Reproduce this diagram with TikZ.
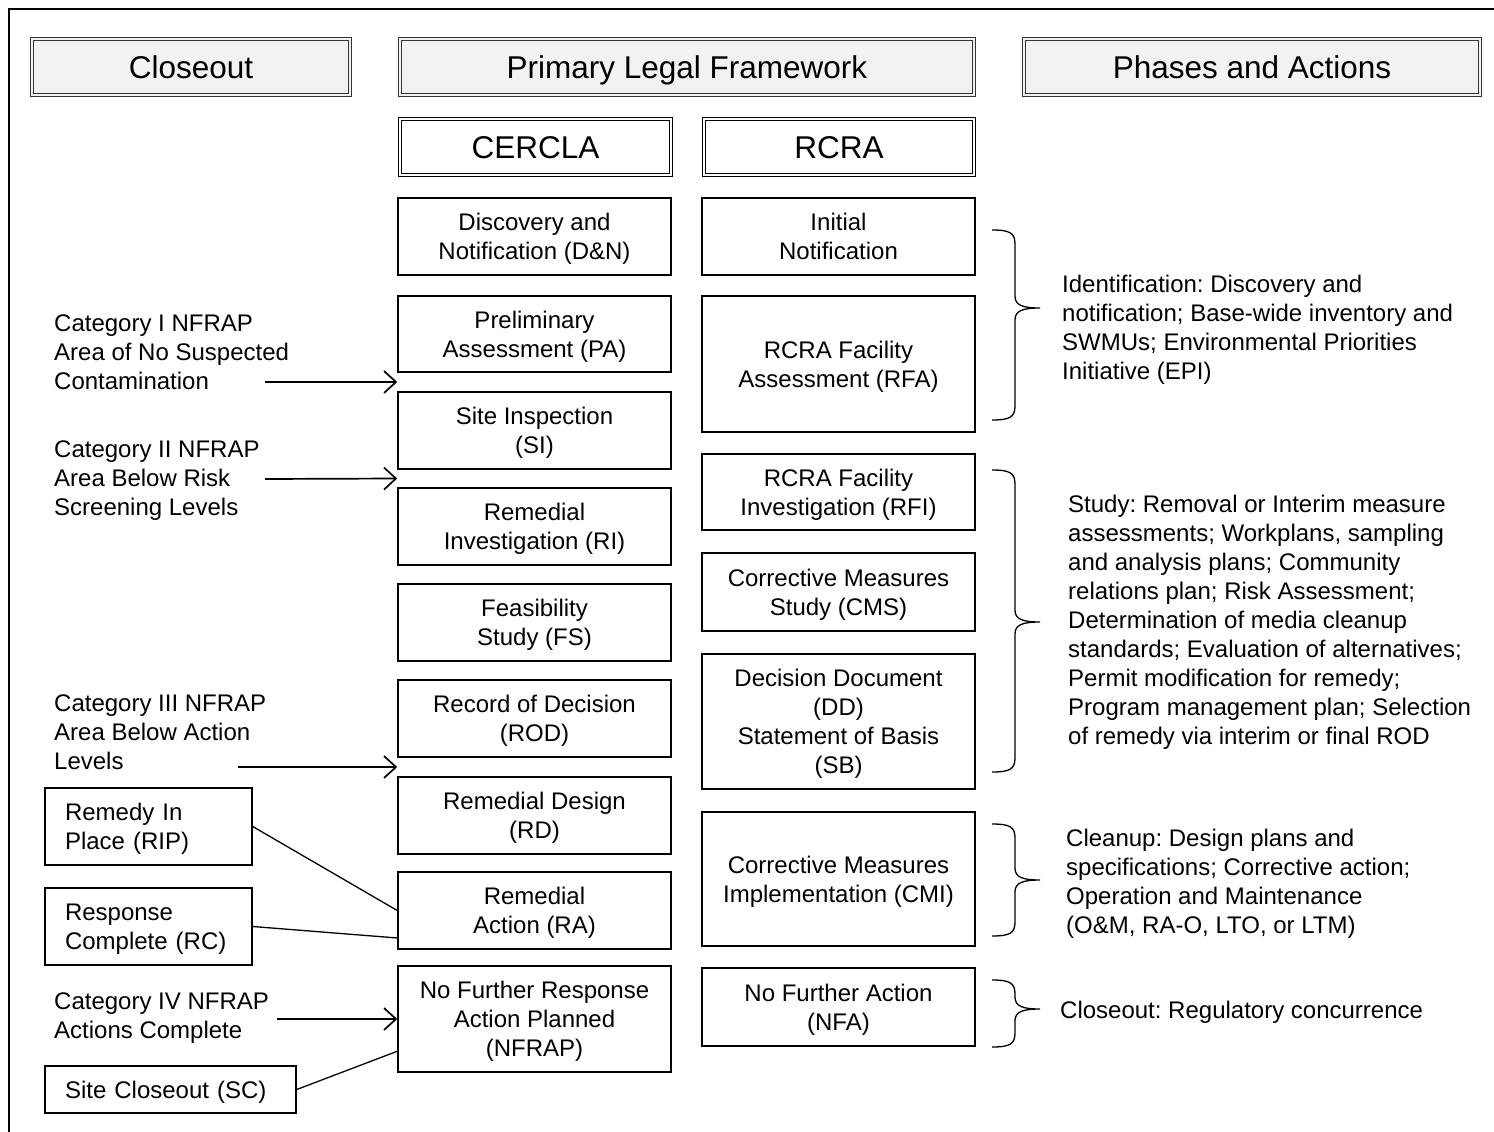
\documentclass[tikz,border=0pt]{standalone}
\usepackage{fontspec}
\setmainfont{Liberation Sans}
\usetikzlibrary{arrows.meta,calc}
\definecolor{hdrgray}{HTML}{F2F2F2}
\frenchspacing
\newcommand\bodyfont{\fontsize{24}{29}\selectfont}
\newcommand\hdrfont{\fontsize{31.5}{36}\selectfont}
\newcommand\stA{\rule{0pt}{22pt}}
\newcommand\stB{\rule[-5pt]{0pt}{5pt}}
\newcommand\drawbrace[3]{%
  \draw[brc] (992,#1) .. controls (1010,#1) and (1015,#1+3) .. (1015,#1+14)
    -- (1015,#2-12) .. controls (1015,#2-3) and (1022,#2) .. (1040,#2)
    .. controls (1022,#2) and (1015,#2+3) .. (1015,#2+12)
    -- (1015,#3-14) .. controls (1015,#3-3) and (1010,#3) .. (992,#3);}
\begin{document}
\begin{tikzpicture}[x=1pt,y=-1pt,
  box/.style={draw, line width=1.5pt, inner sep=0pt, align=center, font=\bodyfont, minimum width=273pt},
  lbox/.style={draw, line width=1.5pt, inner ysep=0pt, inner xsep=20pt, align=left, font=\bodyfont},
  hdr/.style={draw=black!80, double=hdrgray, double distance=2pt, line width=1.2pt, fill=hdrgray, inner sep=0pt, font=\hdrfont, minimum height=55.6pt, text height=29pt, text depth=6.4pt},
  fw/.style={draw=black, double=white, double distance=2pt, line width=1.2pt, fill=white, inner sep=0pt, font=\hdrfont, minimum height=55.6pt, text height=29pt, text depth=6.4pt},
  lbl/.style={align=left, inner sep=0pt, anchor=west, font=\bodyfont},
  arr/.style={-{Straight Barb[length=12pt,width=22pt]}, line width=1.7pt},
  conn/.style={line width=1.3pt},
  brc/.style={line width=1.3pt}
]
\useasboundingbox (0,0) rectangle (1494,1132);
\draw[line width=2.3pt] (1494,9) -- (9,9) -- (9,1132);

% headers
\node[hdr, minimum width=317.6pt] (hclose) at (191,67) {Closeout};
\node[hdr, minimum width=573.6pt] (hlegal) at (687,67) {Primary Legal Framework};
\node[hdr, minimum width=455.6pt] (hphase) at (1252,67) {Phases and Actions};
\node[fw, minimum width=270.6pt] (cercla) at (535.5,147) {CERCLA};
\node[fw, minimum width=269.6pt] (rcra) at (839,147) {RCRA};

% CERCLA column
\node[box, minimum height=77pt] (DN) at (534.5,236.5) {\stA Discovery and\\Notification (D\&N)\stB};
\node[box, minimum height=76pt] (PA) at (534.5,334) {\stA Preliminary\\Assessment (PA)\stB};
\node[box, minimum height=77pt] (SI) at (534.5,430.5) {\stA Site Inspection\\(SI)\stB};
\node[box, minimum height=77pt] (RI) at (534.5,526.5) {\stA Remedial\\Investigation (RI)\stB};
\node[box, minimum height=77pt] (FS) at (534.5,622.5) {\stA Feasibility\\Study (FS)\stB};
\node[box, minimum height=77pt] (ROD) at (534.5,718.5) {\stA Record of Decision\\(ROD)\stB};
\node[box, minimum height=77pt] (RD) at (534.5,815.5) {\stA Remedial Design\\(RD)\stB};
\node[box, minimum height=77pt] (RA) at (534.5,910.5) {\stA Remedial\\Action (RA)\stB};
\node[box, minimum height=106pt] (NFRAP) at (534.5,1019) {\stA No Further Response\\Action Planned\\(NFRAP)\stB};

% RCRA column
\node[box, minimum height=77pt] (IN) at (838.5,236.5) {\stA Initial\\Notification\stB};
\node[box, minimum height=136pt] (RFA) at (838.5,364) {\stA RCRA Facility\\Assessment (RFA)\stB};
\node[box, minimum height=76pt] (RFI) at (838.5,492) {\stA RCRA Facility\\Investigation (RFI)\stB};
\node[box, minimum height=78pt] (CMS) at (838.5,592) {\stA Corrective Measures\\Study (CMS)\stB};
\node[box, minimum height=135pt] (DD) at (838.5,721.5) {\stA Decision Document\\(DD)\\Statement of Basis\\(SB)\stB};
\node[box, minimum height=134pt] (CMI) at (838.5,879) {\stA Corrective Measures\\Implementation (CMI)\stB};
\node[box, minimum height=78pt] (NFA) at (838.5,1007) {\stA No Further Action\\(NFA)\stB};

% left closeout boxes
\node[lbox, text width=167pt, minimum height=77pt] (RIP) at (148.5,826.5) {\stA Remedy In\\Place (RIP)\stB};
\node[lbox, text width=167pt, minimum height=77pt] (RC) at (148.5,926.5) {\stA Response\\Complete (RC)\stB};
\node[lbox, text width=211pt, minimum height=47pt] (SC) at (170.5,1089.5) {\stA Site Closeout (SC)\stB};

% category labels
\node[lbl] (cat1) at (54,352) {\stA Category I NFRAP\\Area of No Suspected\\Contamination\stB};
\node[lbl] (cat2) at (54,478) {\stA Category II NFRAP\\Area Below Risk\\Screening Levels\stB};
\node[lbl] (cat3) at (54,732) {\stA Category III NFRAP\\Area Below Action\\Levels\stB};
\node[lbl] (cat4) at (54,1015.5) {\stA Category IV NFRAP\\Actions Complete\stB};

% arrows
\coordinate (a1s) at (265,382);
\coordinate (a1e) at ($(PA.south west)!0.5!(SI.north west)$);
\coordinate (a2s) at (265,479);
\coordinate (a2e) at ($(SI.south west)!0.5!(RI.north west)$);
\coordinate (a3s) at (238,767);
\coordinate (a3e) at ($(ROD.south west)!0.5!(RD.north west)$);
\coordinate (a4s) at (277,1019);
\draw[arr] (a1s) -- (a1e);
\draw[arr] (a2s) -- (a2e);
\draw[arr] (a3s) -- (a3e);
\draw[arr] (a4s) -- (NFRAP.west);

% connector lines
\draw[conn] (RIP.east) -- (RA.west);
\draw[conn] (RC.east) -- ($(RA.west)!0.7!(RA.south west)$);
\draw[conn] (SC.east) -- ($(NFRAP.west)!0.6!(NFRAP.south west)$);

% braces
\drawbrace{230}{308}{420}
\drawbrace{470}{622}{772}
\drawbrace{824}{880}{936}
\drawbrace{980}{1009}{1047}

% phase texts
\node[lbl] (ph1) at (1062,327.5) {\stA Identification: Discovery and\\notification; Base-wide inventory and\\SWMUs; Environmental Priorities\\Initiative (EPI)\stB};
\node[lbl] (ph2) at (1068,619.5) {\stA Study: Removal or Interim measure\\assessments; Workplans, sampling\\and analysis plans; Community\\relations plan; Risk Assessment;\\Determination of media cleanup\\standards; Evaluation of alternatives;\\Permit modification for remedy;\\Program management plan; Selection\\of remedy via interim or final ROD\stB};
\node[lbl] (ph3) at (1066,881) {\stA Cleanup: Design plans and\\specifications; Corrective action;\\Operation and Maintenance\\(O\&M, RA-O, LTO, or LTM)\stB};
\node[lbl] (ph4) at (1060,1010) {\stA Closeout: Regulatory concurrence\stB};
\end{tikzpicture}
\end{document}
